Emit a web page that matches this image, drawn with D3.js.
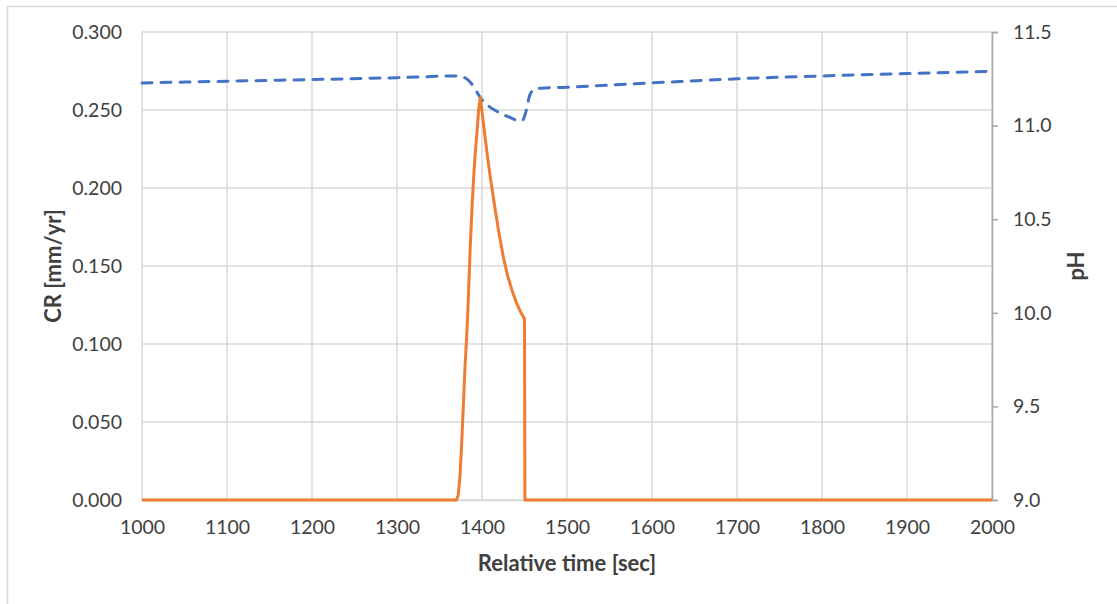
<!DOCTYPE html>
<html>
<head>
<meta charset="utf-8">
<script src="https://cdn.jsdelivr.net/npm/d3@7"></script>
<style>
  body { margin: 0; background: #fff; }
  text { font-family: Lato, "Open Sans", sans-serif; fill: #404040; }
</style>
</head>
<body>
<div id="chart"></div>
<script>
// Corrosion rate (orange) readings
const crTime = [1000, 1370, 1372, 1374, 1376, 1378, 1380, 1382, 1384, 1386, 1388, 1390, 1392, 1394, 1396, 1398,
                1402, 1406, 1410, 1415, 1420, 1425, 1430, 1435, 1440, 1445, 1450, 1450.5, 2000];
const crValues = [0, 0, 0.003, 0.015, 0.035, 0.06, 0.085, 0.105, 0.13, 0.16, 0.185, 0.205, 0.222, 0.235, 0.25, 0.258,
                  0.240, 0.222, 0.206, 0.188, 0.171, 0.156, 0.144, 0.135, 0.127, 0.121, 0.116, 0, 0];

// pH (blue dashed) readings
const phTime = [1000, 1100, 1200, 1300, 1370, 1380, 1390, 1398, 1409, 1420, 1432, 1445, 1448, 1452, 1456, 1462,
                1470, 1500, 1600, 1700, 1800, 1900, 2000];
const phValues = [11.228, 11.237, 11.246, 11.256, 11.265, 11.255, 11.21, 11.15, 11.10, 11.07, 11.045, 11.025, 11.03,
                  11.08, 11.16, 11.195, 11.2, 11.205, 11.228, 11.25, 11.265, 11.278, 11.29];

const xTicks = [1000, 1100, 1200, 1300, 1400, 1500, 1600, 1700, 1800, 1900, 2000];
const crTicks = [0, 0.05, 0.1, 0.15, 0.2, 0.25, 0.3];
const phTicks = [9.0, 9.5, 10.0, 10.5, 11.0, 11.5];

const W = 1117, H = 604;
const margin = { top: 32, right: 125, bottom: 104, left: 142 },
      width = W - margin.left - margin.right,
      height = H - margin.top - margin.bottom;

const root = d3.select("#chart")
    .append("svg")
    .attr("width", W)
    .attr("height", H);

// Chart area border
root.append("rect")
    .attr("x", 7.5).attr("y", 6.5)
    .attr("width", 1300).attr("height", 800)
    .attr("fill", "none")
    .attr("stroke", "#d9d9d9")
    .attr("stroke-width", 1.5);

const svg = root.append("g")
    .attr("transform", `translate(${margin.left},${margin.top})`);

const x = d3.scaleLinear().domain([1000, 2000]).range([0, width]);
const yCR = d3.scaleLinear().domain([0, 0.3]).range([height, 0]);
const yPH = d3.scaleLinear().domain([9, 11.5]).range([height, 0]);

// Gridlines
svg.append("g")
    .selectAll("line.h")
    .data(crTicks)
    .enter().append("line")
    .attr("x1", 0).attr("x2", width)
    .attr("y1", d => yCR(d)).attr("y2", d => yCR(d))
    .attr("stroke", "#d9d9d9").attr("stroke-width", 1.5);

svg.append("g")
    .selectAll("line.v")
    .data(xTicks)
    .enter().append("line")
    .attr("y1", 0).attr("y2", height)
    .attr("x1", d => x(d)).attr("x2", d => x(d))
    .attr("stroke", "#d9d9d9").attr("stroke-width", 1.5);

// Axes
const xAxis = svg.append("g")
    .attr("transform", `translate(0,${height})`)
    .call(d3.axisBottom(x).tickValues(xTicks).tickFormat(d3.format("d")).tickSize(0).tickPadding(20));

const yAxisL = svg.append("g")
    .call(d3.axisLeft(yCR).tickValues(crTicks).tickFormat(d3.format(".3f")).tickSize(0).tickPadding(20));

const yAxisR = svg.append("g")
    .attr("transform", `translate(${width},0)`)
    .call(d3.axisRight(yPH).tickValues(phTicks).tickFormat(d3.format(".1f")).tickSize(6).tickPadding(15));

[xAxis, yAxisL, yAxisR].forEach(a => {
    a.selectAll("text").style("font-size", "19.5px").attr("fill", "#404040");
    a.select(".domain").attr("stroke", "#d9d9d9").attr("stroke-width", 1.5);
});
yAxisL.select(".domain").remove();
yAxisR.select(".domain").attr("stroke", "#a6a6a6");
yAxisR.selectAll(".tick line").attr("stroke", "#a6a6a6").attr("stroke-width", 1.5);

// pH line
svg.append("path")
    .datum(phTime.map((t, i) => [t, phValues[i]]))
    .attr("fill", "none")
    .attr("stroke", "#4472c4")
    .attr("stroke-width", 3)
    .attr("stroke-linecap", "round")
    .attr("stroke-dasharray", "10,9")
    .attr("d", d3.line().x(d => x(d[0])).y(d => yPH(d[1])).curve(d3.curveMonotoneX));

// CR line
svg.append("path")
    .datum(crTime.map((t, i) => [t, crValues[i]]))
    .attr("fill", "none")
    .attr("stroke", "#ed7d31")
    .attr("stroke-width", 3)
    .attr("stroke-linejoin", "round")
    .attr("d", d3.line().x(d => x(d[0])).y(d => yCR(d[1])));

// Axis titles
svg.append("text")
    .attr("x", width / 2)
    .attr("y", height + 71)
    .attr("text-anchor", "middle")
    .style("font-size", "22px")
    .style("font-weight", "bold")
    .attr("fill", "#262626")
    .text("Relative time [sec]");

svg.append("text")
    .attr("transform", "rotate(-90)")
    .attr("x", -height / 2)
    .attr("y", -81)
    .attr("text-anchor", "middle")
    .style("font-size", "22px")
    .style("font-weight", "bold")
    .attr("fill", "#262626")
    .text("CR [mm/yr]");

svg.append("text")
    .attr("transform", "rotate(-90)")
    .attr("x", -height / 2)
    .attr("y", width + 92)
    .attr("text-anchor", "middle")
    .style("font-size", "22px")
    .style("font-weight", "bold")
    .attr("fill", "#262626")
    .text("pH");
</script>
</body>
</html>
